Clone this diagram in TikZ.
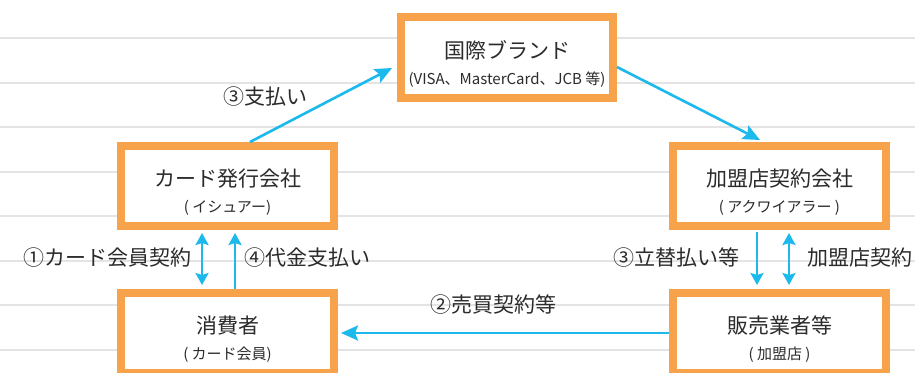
\documentclass[tikz,border=0pt]{standalone}
\usepackage{fontspec}
\setmainfont{Noto Sans CJK JP}
\usepackage{tikz}
\usetikzlibrary{arrows.meta}
\usetikzlibrary{positioning}

\definecolor{boxorange}{HTML}{F7A34B}
\definecolor{arrowblue}{HTML}{1BB9EC}
\definecolor{ruleline}{HTML}{E4E4E4}
\definecolor{txt}{HTML}{2B2B2B}

\newcommand{\subtxt}[1]{{\fontsize{15}{17}\selectfont #1}}

\begin{document}
\begin{tikzpicture}[x=1pt, y=-1pt,
box/.style={draw=boxorange, line width=8pt, fill=white, minimum width=213pt,
  minimum height=80pt, inner sep=0pt, align=center, text=txt,
  font=\fontsize{21}{23}\selectfont},
lbl/.style={text=txt, inner sep=0pt, font=\fontsize{21}{23}\selectfont},
arr/.style={arrowblue, line width=2.6pt, -{Stealth[length=12pt, width=13pt, inset=2pt]}},
both/.style={{Stealth[length=12pt, width=13pt, inset=2pt]}-{Stealth[length=12pt, width=13pt, inset=2pt]}},
big/.style={-{Stealth[length=17pt, width=15pt, inset=3pt]}}]
\clip (0,0) rectangle (915,372);
\fill[white] (0,0) rectangle (915,372);
\foreach \y in {38,82.5,127,171.5,216,260.5,305,349.5}
  \draw[ruleline, line width=2pt] (0,\y) -- (915,\y);
\node[box, minimum width=212pt, minimum height=81pt] (brand) at (507,57.5)
  {\rule{0pt}{30pt}国際ブランド\\[3pt]\subtxt{(VISA、MasterCard、JCB 等)}};
\node[box] (issuer) at (227.5,186)
  {\rule{0pt}{30pt}カード発行会社\\[3pt]\subtxt{( イシュアー)}};
\node[box] (consumer) at (227.5,333)
  {\rule{0pt}{30pt}消費者\\[3pt]\subtxt{( カード会員)}};
\node[box] (acquirer) at (779.5,186)
  {\rule{0pt}{30pt}加盟店契約会社\\[3pt]\subtxt{( アクワイアラー )}};
\node[box] (merchant) at (779.5,333)
  {\rule{0pt}{30pt}販売業者等\\[3pt]\subtxt{( 加盟店 )}};
\draw[arr, big] ([xshift=22.5pt]issuer.north) -- ([xshift=-5pt, yshift=-10.5pt]brand.west);
\draw[arr, big] ([yshift=-9.5pt]brand.east) -- ([xshift=-19.5pt, yshift=2pt]acquirer.north);
\draw[arr, both, shorten <=3pt, shorten >=4pt]
  ([xshift=-25.5pt]issuer.south) -- ([xshift=-25.5pt]consumer.north);
\draw[arr, shorten >=3pt] ([xshift=7.5pt]consumer.north) -- ([xshift=7.5pt]issuer.south);
\draw[arr, shorten <=2pt, shorten >=4pt] ([xshift=-22.5pt]acquirer.south) -- ([xshift=-22.5pt]merchant.north);
\draw[arr, both, shorten <=3pt, shorten >=4pt]
  ([xshift=9.5pt]acquirer.south) -- ([xshift=9.5pt]merchant.north);
\draw[arr, big, shorten >=3pt] (merchant.west) -- (consumer.east);
\node[lbl] (pay) at (265.5,97) {③支払い};
\node[lbl] (member) at (107.5,258) {①カード会員契約};
\node[lbl] (price) at (307,258) {④代金支払い};
\node[lbl] (advance) at (676.5,258) {③立替払い等};
\node[lbl] (shop) at (860,258) {加盟店契約};
\node[lbl] (sale) at (493,305) {②売買契約等};
\end{tikzpicture}
\end{document}
